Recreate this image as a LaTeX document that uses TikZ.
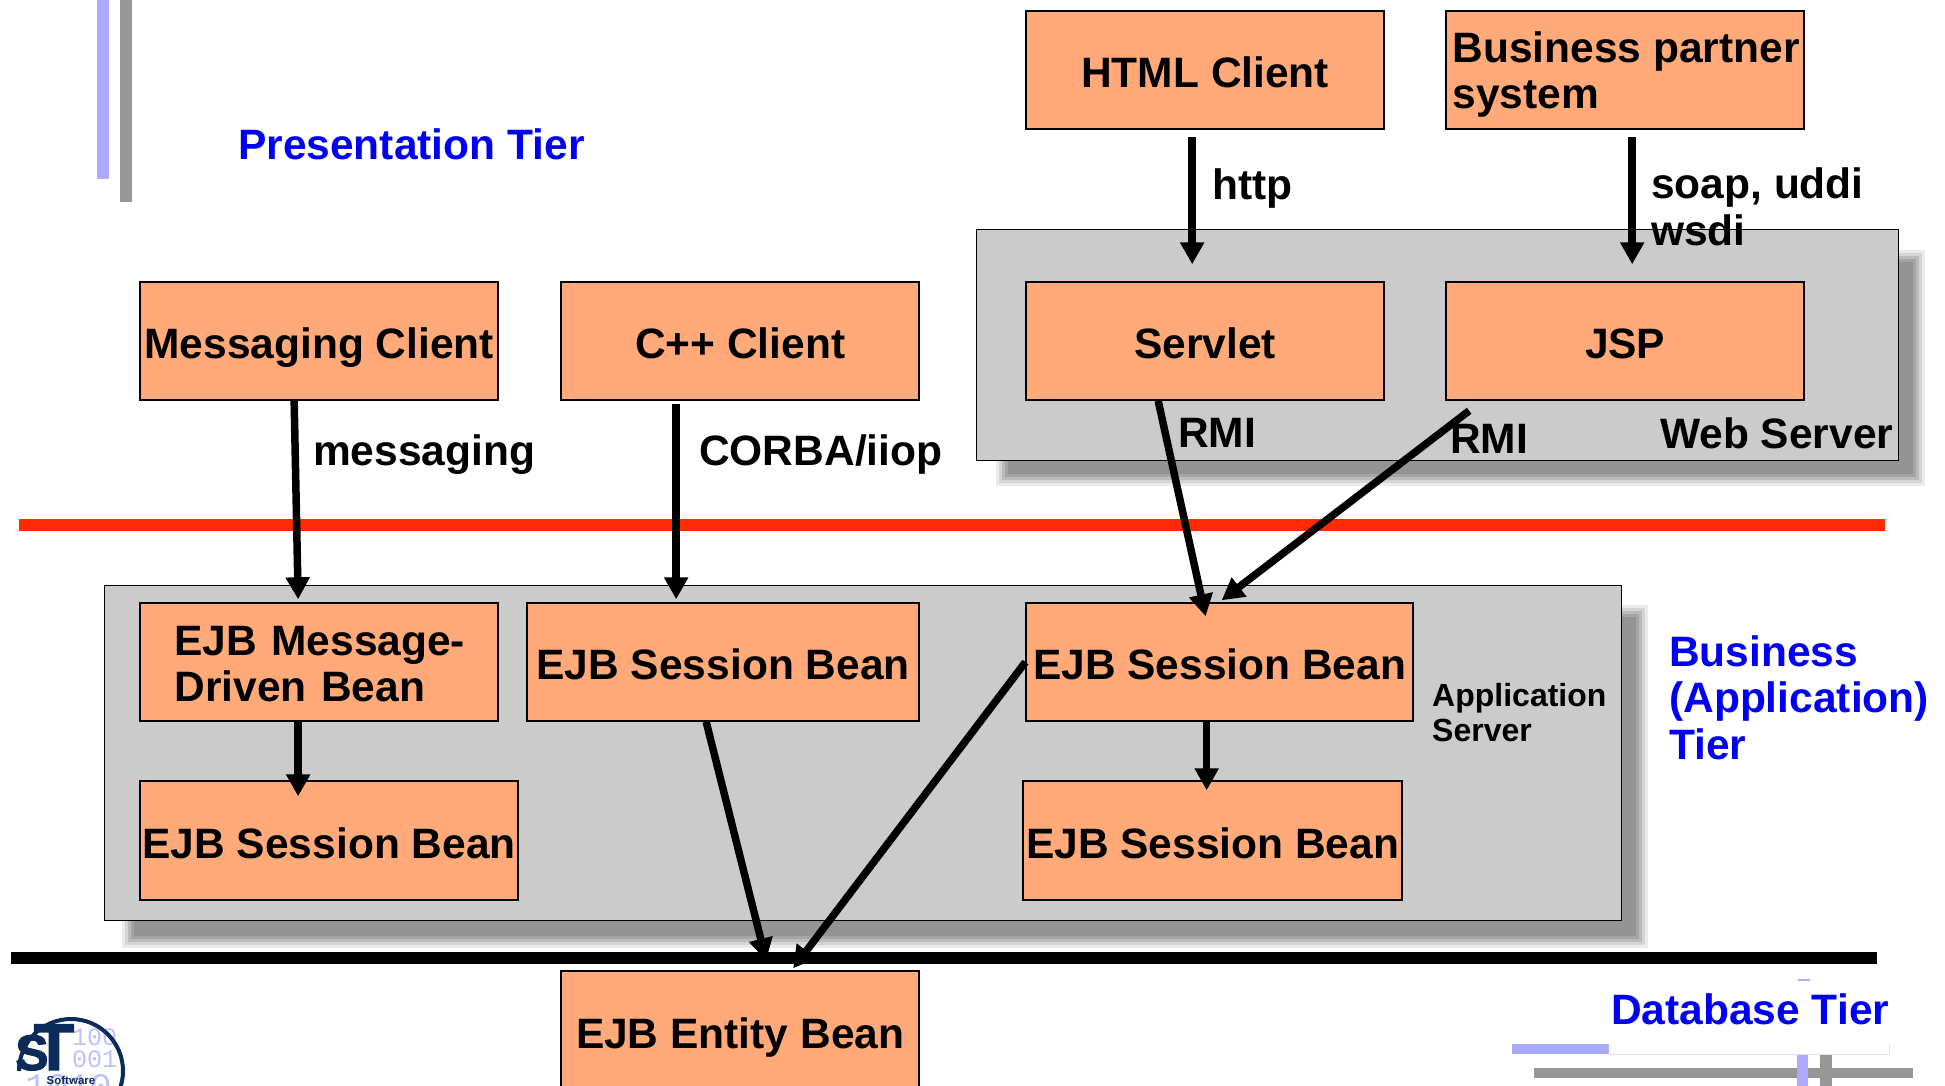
\documentclass[tikz,border=0pt]{standalone}
\usepackage{fontspec}
\setmainfont{Liberation Sans}
\newfontfamily\digitfont{Liberation Mono}
\newfontfamily\logofont[FakeBold=2]{Liberation Sans Bold}
\usetikzlibrary{arrows.meta,calc}
\definecolor{boxorange}{HTML}{FFAA78}
\definecolor{srvgray}{HTML}{CBCBCB}
\definecolor{shadowgray}{HTML}{8E8E8E}
\definecolor{sepred}{HTML}{FF2A00}
\definecolor{lav}{HTML}{AAAAFF}
\definecolor{bargray}{HTML}{969696}
\definecolor{navy}{HTML}{0B2B5B}
\definecolor{tierblue}{HTML}{0000F5}
\newcommand{\softshadow}[4]{%
  \foreach \k/\op in {0/0.18,3/0.25,6/0.35,9/0.5,12/0.75}{
    \fill[shadowgray,opacity=\op] ({#1+\k},{#2+\k}) rectangle ({#3-\k},{#4-\k});
  }}
\tikzset{
  x=1pt,y=-1pt,
  lbl/.style={font=\bfseries\fontsize{42.5}{46.5}\selectfont,inner sep=0pt,anchor=base west,align=left},
  tier/.style={lbl,text=tierblue},
  orangebox/.style={draw=black,line width=1.5pt,fill=boxorange,anchor=north west,inner sep=0pt,xshift=-0.6pt,yshift=0.7pt,
     font=\bfseries\fontsize{42.5}{46.5}\selectfont},
  onel/.style={text height=35pt,text depth=0pt},
  server/.style={draw=black,line width=1.5pt,fill=srvgray,anchor=north west,inner sep=0pt,xshift=-0.4pt,yshift=0.5pt},
  conn/.style={line width=7.5pt,-{Triangle[length=22pt,width=23pt]}},
  bar/.style={draw=none,inner sep=0pt,anchor=north west},
  digits/.style={inner sep=0pt,anchor=base west,text=lav!75,font=\digitfont\fontsize{25}{25}\selectfont}
}
\begin{document}
\begin{tikzpicture}
\useasboundingbox (0,0) rectangle (1945,1086);
\clip (0,0) rectangle (1945,1086);
% decorative bars
\node[bar,fill=lav,minimum width=12pt,minimum height=179pt] (lavtop) at (97,0) {};
\node[bar,fill=bargray,minimum width=12pt,minimum height=202pt] (graytop) at (120,0) {};
\node[bar,fill=lav,minimum width=377pt,minimum height=10pt] (lavh) at (1512,1044) {};
\node[bar,fill=bargray,minimum width=379pt,minimum height=10pt] (grayh) at (1534,1068) {};
\node[bar,fill=lav,minimum width=11pt,minimum height=32pt] (lavv) at (1797,1054) {};
\node[bar,fill=bargray,minimum width=12pt,minimum height=32pt] (grayv) at (1820,1054) {};
\node[bar,fill=white,minimum width=280pt,minimum height=74pt] (dbcover) at (1609,980) {};
\draw[lav!40,line width=1pt] (1609,1054) -- (1889,1054) -- (1889,1045);
\node[bar,fill=lav,minimum width=12pt,minimum height=2pt] (lavdash) at (1798,979) {};
% separators
\node[bar,fill=sepred,minimum width=1866pt,minimum height=12pt] (redline) at (19,519) {};
\node[bar,fill=black,minimum width=1866pt,minimum height=12pt] (blackline) at (11,952) {};
% servers
\softshadow{996}{250}{1925}{486}
\node[server,minimum width=922pt,minimum height=231pt] (web) at (976,229) {};
\softshadow{122}{605}{1648}{948}
\node[server,minimum width=1517pt,minimum height=335pt] (app) at (104,585) {};
% boxes
\node[orangebox,onel,minimum width=358pt,minimum height=118pt] (html) at (1026,11) {HTML Client};
\node[orangebox,minimum width=358pt,minimum height=118pt] (partner) at (1446,11) {};
\node[orangebox,minimum width=358pt,minimum height=118pt,align=left,yshift=-4.5pt,draw=none,fill=none] (partnerlbl) at (1447,11) {Business partner\\system};
\node[orangebox,onel,minimum width=358pt,minimum height=118pt] (msgclient) at (140,282) {Messaging Client};
\node[orangebox,onel,minimum width=358pt,minimum height=118pt] (cpp) at (561,282) {C++ Client};
\node[orangebox,onel,minimum width=358pt,minimum height=118pt] (servlet) at (1026,282) {Servlet};
\node[orangebox,onel,minimum width=358pt,minimum height=118pt] (jsp) at (1446,282) {JSP};
\node[orangebox,minimum width=358pt,minimum height=118pt] (mdb) at (140,603) {};
\node[orangebox,minimum width=358pt,minimum height=118pt,align=left,text width=323pt,yshift=-2pt,draw=none,fill=none] (mdbtxt) at (140,603) {\hspace*{17pt}EJB Message-\\\hspace*{17pt}Driven Bean};
\node[orangebox,onel,minimum width=392pt,minimum height=118pt] (sess2) at (527,603) {EJB Session Bean};
\node[orangebox,onel,minimum width=387pt,minimum height=118pt] (sess3) at (1026,603) {EJB Session Bean};
\node[orangebox,onel,minimum width=378pt,minimum height=119pt] (sess1) at (140,781) {EJB Session Bean};
\node[orangebox,onel,minimum width=379pt,minimum height=119pt] (sess4) at (1023,781) {EJB Session Bean};
\node[orangebox,onel,minimum width=358pt,minimum height=119pt] (entity) at (561,971) {EJB Entity Bean};
% connectors
\draw[conn] ([xshift=-13pt,yshift=-7pt]html.south) -- ([xshift=-13pt,yshift=17pt]servlet.north);
\draw[conn] ([xshift=7pt,yshift=-7pt]partner.south) -- ([xshift=7pt,yshift=17pt]jsp.north);
\draw[conn] ([xshift=-25pt]msgclient.south) -- ([xshift=-21pt,yshift=3pt]mdb.north);
\draw[conn] ([xshift=-64pt,yshift=-3pt]cpp.south) -- ([xshift=-47pt,yshift=3pt]sess2.north);
\draw[conn] ([xshift=-47pt]servlet.south) -- ([xshift=-14pt,yshift=-14pt]sess3.north);
\draw[conn] ([xshift=-156pt,yshift=-10pt]jsp.south) -- ([xshift=2pt,yshift=2pt]sess3.north);
\draw[conn] ([xshift=-21pt]mdb.south) -- ([xshift=-31pt,yshift=-16pt]sess1.north);
\draw[conn] ([xshift=-13pt]sess3.south) -- ([xshift=-6pt,yshift=-10pt]sess4.north);
\draw[conn] ([xshift=-17pt]sess2.south) -- ([xshift=26pt,yshift=10pt]entity.north);
\draw[conn] (sess3.west) -- ([xshift=53pt,yshift=2pt]entity.north);
% labels
\node[tier] (tpres) at (238,160) {Presentation Tier};
\node[tier] (tbus) at (1669,759) {Business\\(Application)\\Tier};
\node[tier] (tdb) at (1611,1024) {Database Tier};
\node[lbl] (lhttp) at (1212,200) {http};
\node[lbl] (lsoap) at (1651,245) {soap, uddi\\wsdi};
\node[lbl] (lmsg) at (313,465) {messaging};
\node[lbl] (lcorba) at (699,465) {CORBA/iiop};
\node[lbl] (lrmi1) at (1178,447) {RMI};
\node[lbl] (lrmi2) at (1450,453) {RMI};
\node[lbl] (lweb) at (1660,448) {Web Server};
\node[lbl,font=\bfseries\fontsize{32}{34.5}\selectfont] (lapp) at (1432,741) {Application\\Server};
% logo
\node[digits] (dig1) at (72,1045) {100};
\node[digits] (dig2) at (72,1067) {001};
\node[digits,font=\digitfont\fontsize{36}{36}\selectfont] (dig3) at (25,1098) {1010};
\coordinate (logoc) at (71,1071);
\draw[navy,line width=4pt] (logoc) ++(90:52) arc[start angle=90,end angle=-90,radius=52];
\draw[navy,line width=4pt] (logoc) ++(180:52) arc[start angle=180,end angle=270,radius=52];
\node[inner sep=0pt,anchor=base,text=navy,font=\logofont\fontsize{66}{66}\selectfont] (logoT) at (54,1070) {T};
\node[inner sep=0pt,anchor=base,text=navy,font=\logofont\fontsize{50}{50}\selectfont] (logoS) at (32,1070) {S};
\node[inner sep=1pt,anchor=base,text=navy,font=\bfseries\fontsize{11.5}{12}\selectfont] (logotxt) at (71,1084) {Software};
\end{tikzpicture}
\end{document}
